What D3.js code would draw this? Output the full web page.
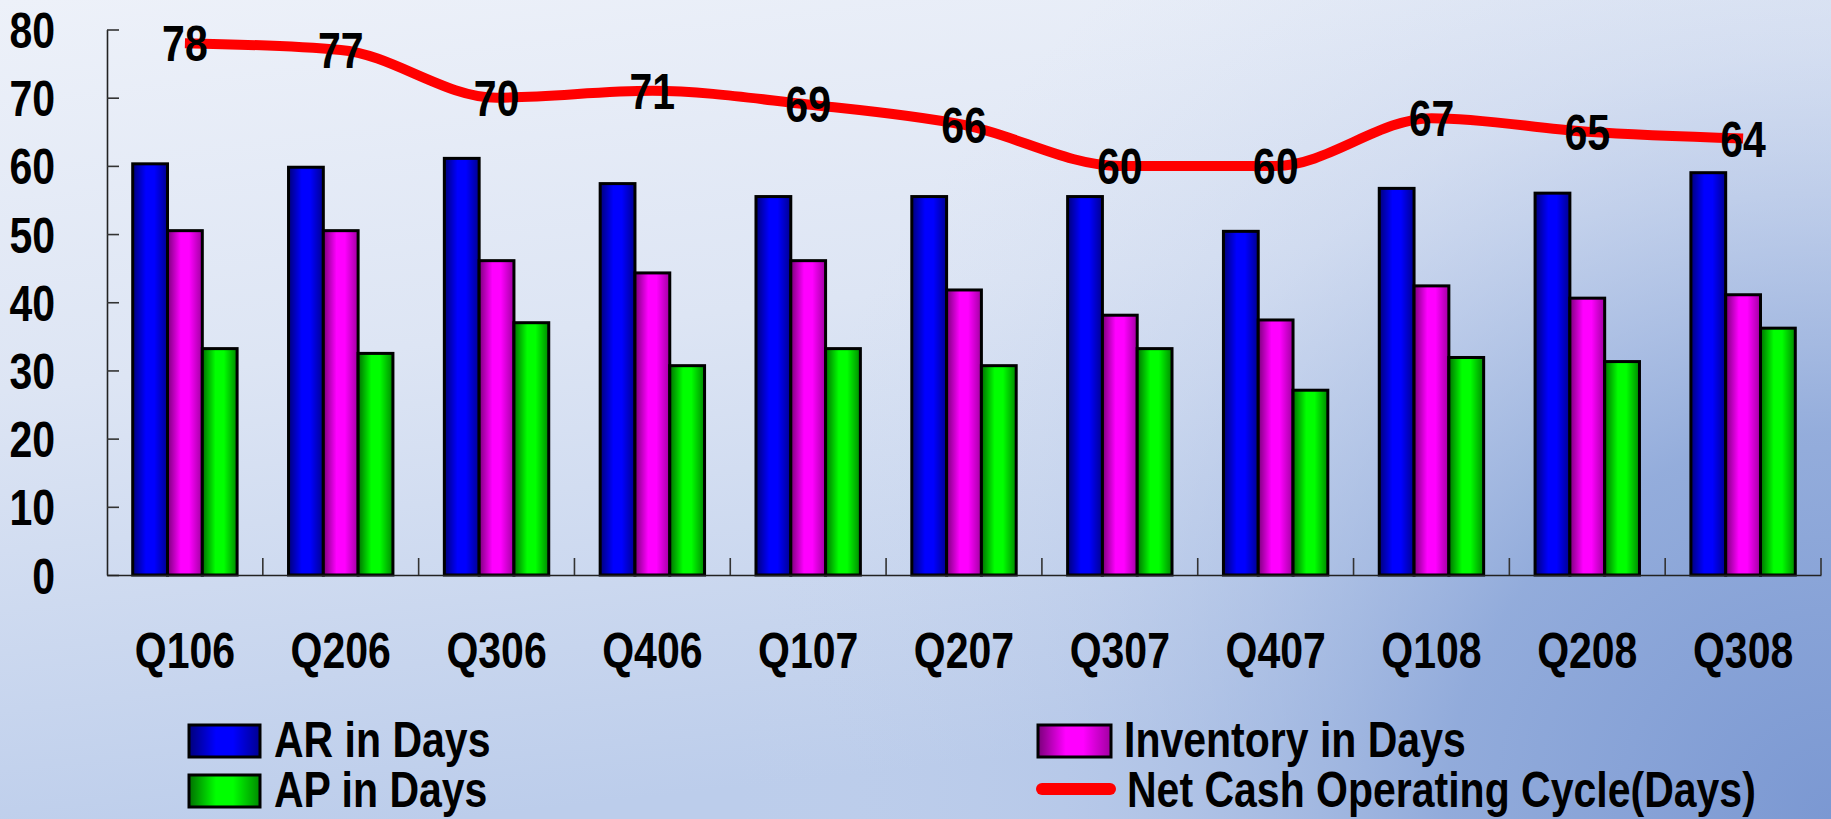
<!DOCTYPE html>
<html><head><meta charset="utf-8">
<script src="https://cdn.jsdelivr.net/npm/d3@7"></script>
<style>html,body{margin:0;padding:0;overflow:hidden;background:#dfe6f4}</style>
</head><body>
<svg id="chart" width="1831" height="819"></svg>
<script>
// ---------------- data ----------------
const categories = ["Q106","Q206","Q306","Q406","Q107","Q207","Q307","Q407","Q108","Q208","Q308"];
const seriesNames = ["AR in Days","Inventory in Days","AP in Days"];
const arDays        = [60.3, 59.8, 61.1, 57.4, 55.5, 55.5, 55.5, 50.4, 56.7, 56.0, 59.0];
const inventoryDays = [50.5, 50.5, 46.1, 44.3, 46.1, 41.8, 38.1, 37.4, 42.4, 40.6, 41.1];
const apDays        = [33.2, 32.5, 37.0, 30.7, 33.2, 30.7, 33.2, 27.1, 31.9, 31.3, 36.2];
const lineName = "Net Cash Operating Cycle(Days)";
const netCycleDays  = [78, 77, 70, 71, 69, 66, 60, 60, 67, 65, 64];
const yTicks = [0, 10, 20, 30, 40, 50, 60, 70, 80];

const seriesValues = [arDays, inventoryDays, apDays];
const seriesColors = [
  {dark:"#00007a", mid:"#0000ff", right:"#000090"},
  {dark:"#7a007a", mid:"#ff00ff", right:"#a000a0"},
  {dark:"#007000", mid:"#00ff00", right:"#008a00"}
];

// ---------------- font handling ----------------
function fontAvailable(name){
  const c = document.createElement('canvas').getContext('2d');
  const s = "Net Cash Operating Cycle 0123456789";
  c.font = "bold 50px monospace"; const w1 = c.measureText(s).width;
  c.font = `bold 50px "${name}", monospace`; const w2 = c.measureText(s).width;
  return Math.abs(w1 - w2) > 0.5;
}
const hasNarrow = fontAvailable("Liberation Sans Narrow");
const FONT = hasNarrow ? "'Liberation Sans Narrow','Arial Narrow',sans-serif" : "'Liberation Sans',Arial,sans-serif";
const SX = hasNarrow ? 1 : 0.82;
function squeeze(sel){
  sel.each(function(){
    const t = d3.select(this);
    const x0 = +(t.attr("x") || 0);
    if (SX !== 1) t.attr("transform", `translate(${x0*(1-SX)},0) scale(${SX},1)`);
  });
}

// ---------------- setup ----------------
const W = 1831, H = 819;
const svg = d3.select("#chart");
const defs = svg.append("defs");

const bg = defs.append("linearGradient").attr("id","bgV").attr("x1",0).attr("y1",0).attr("x2",0.25).attr("y2",1);
bg.append("stop").attr("offset",0).attr("stop-color","#edf1f9");
bg.append("stop").attr("offset",0.45).attr("stop-color","#dde5f4");
bg.append("stop").attr("offset",1).attr("stop-color","#bccdeb");
const bgR = defs.append("radialGradient").attr("id","bgR").attr("gradientUnits","userSpaceOnUse")
  .attr("cx",1831).attr("cy",819).attr("r",1100);
bgR.append("stop").attr("offset",0).attr("stop-color","#7b98d2").attr("stop-opacity",1);
bgR.append("stop").attr("offset",0.35).attr("stop-color","#8aa5d8").attr("stop-opacity",0.85);
bgR.append("stop").attr("offset",0.7).attr("stop-color","#a9bde3").attr("stop-opacity",0.25);
bgR.append("stop").attr("offset",1).attr("stop-color","#c8d5ee").attr("stop-opacity",0);

svg.append("rect").attr("width",W).attr("height",H).attr("fill","url(#bgV)");
svg.append("rect").attr("width",W).attr("height",H).attr("fill","url(#bgR)");

seriesColors.forEach((c,i)=>{
  const g = defs.append("linearGradient").attr("id","grad"+i).attr("x1",0).attr("x2",1).attr("y1",0).attr("y2",0);
  g.append("stop").attr("offset",0).attr("stop-color",c.dark);
  g.append("stop").attr("offset",0.38).attr("stop-color",c.mid);
  g.append("stop").attr("offset",0.62).attr("stop-color",c.mid);
  g.append("stop").attr("offset",1).attr("stop-color",c.right);
});

const x = d3.scaleBand().domain(categories).range([107, 1821]).paddingInner(0).paddingOuter(0);
const bw = x.bandwidth();
const xs = d3.scaleBand().domain(seriesNames).range([bw*0.165, bw*0.835]).paddingInner(0);
const y = d3.scaleLinear().domain([0, 80]).range([575, 29.5]);

// ---------------- bars ----------------
const groups = svg.append("g").selectAll("g").data(categories).join("g")
  .attr("transform", d => `translate(${x(d)},0)`);
groups.selectAll("rect")
  .data((c, ci) => seriesNames.map((s, si) => ({s, si, v: seriesValues[si][categories.indexOf(c)]})))
  .join("rect")
  .attr("x", d => xs(d.s))
  .attr("width", xs.bandwidth())
  .attr("y", d => y(d.v))
  .attr("height", d => y(0) - y(d.v))
  .attr("fill", d => `url(#grad${d.si})`)
  .attr("stroke", "#000").attr("stroke-width", 3);

// ---------------- axes ----------------
const yAxisG = svg.append("g").attr("transform","translate(107,0)")
  .call(d3.axisLeft(y).tickValues(yTicks).tickSizeInner(-12).tickSizeOuter(0).tickPadding(52));
yAxisG.attr("font-family", null).attr("font-size", null);
yAxisG.select(".domain").attr("stroke","#222").attr("stroke-width",1.6);
yAxisG.selectAll(".tick line").attr("stroke","#333").attr("stroke-width",1.6);
yAxisG.selectAll(".tick text").attr("font-family",FONT).attr("font-weight","bold")
  .attr("font-size",50).attr("fill","#000").attr("dy","0.36em").call(squeeze);

const xAxisG = svg.append("g").attr("transform","translate(0,575)")
  .call(d3.axisBottom(x).tickSize(0).tickPadding(58));
xAxisG.attr("font-family", null).attr("font-size", null);
xAxisG.select(".domain").attr("stroke","#222").attr("stroke-width",1.6);
xAxisG.selectAll(".tick text").attr("font-family",FONT).attr("font-weight","bold")
  .attr("font-size",50).attr("fill","#000").call(squeeze);
// category separator ticks
xAxisG.append("g").selectAll("line").data(categories).join("line")
  .attr("x1", d => x(d) + bw).attr("x2", d => x(d) + bw)
  .attr("y1", 0).attr("y2", -17)
  .attr("stroke","#333").attr("stroke-width",1.6);

// ---------------- line ----------------
const line = d3.line()
  .x((d, i) => x(categories[i]) + bw/2)
  .y(d => y(d))
  .curve(d3.curveMonotoneX);
svg.append("path").datum(netCycleDays)
  .attr("d", line).attr("fill","none")
  .attr("stroke","#ff0000").attr("stroke-width",10).attr("stroke-linejoin","round");

svg.append("g").selectAll("text").data(netCycleDays).join("text")
  .attr("x", (d, i) => x(categories[i]) + bw/2)
  .attr("y", d => y(d))
  .attr("dy","0.36em")
  .attr("text-anchor","middle")
  .attr("font-family",FONT).attr("font-weight","bold").attr("font-size",50)
  .attr("fill","#000")
  .text(d => d)
  .call(squeeze);

// ---------------- legend ----------------
const legendItems = [
  {name: seriesNames[0], type:"rect", si:0, col:0, row:0},
  {name: seriesNames[1], type:"rect", si:1, col:1, row:0},
  {name: seriesNames[2], type:"rect", si:2, col:0, row:1},
  {name: lineName,       type:"line",       col:1, row:1}
];
const colX = [189, 1038];
const rowBase = [757, 807];
const lg = svg.append("g");
legendItems.forEach(it => {
  const x0 = colX[it.col], base = rowBase[it.row];
  if (it.type === "rect") {
    lg.append("rect").attr("x", x0).attr("y", base - 32).attr("width", it.col ? 73 : 71).attr("height", 32)
      .attr("fill", `url(#grad${it.si})`).attr("stroke","#000").attr("stroke-width",3);
  } else {
    lg.append("line").attr("x1", x0 + 4).attr("x2", x0 + 72).attr("y1", base - 18).attr("y2", base - 18)
      .attr("stroke","#ff0000").attr("stroke-width",12).attr("stroke-linecap","round");
  }
  lg.append("text").attr("x", x0 + (it.col ? (it.type === "line" ? 89 : 86) : 85)).attr("y", base)
    .attr("font-family",FONT).attr("font-weight","bold").attr("font-size",50).attr("fill","#000")
    .text(it.name).call(squeeze);
});
</script>
</body></html>
